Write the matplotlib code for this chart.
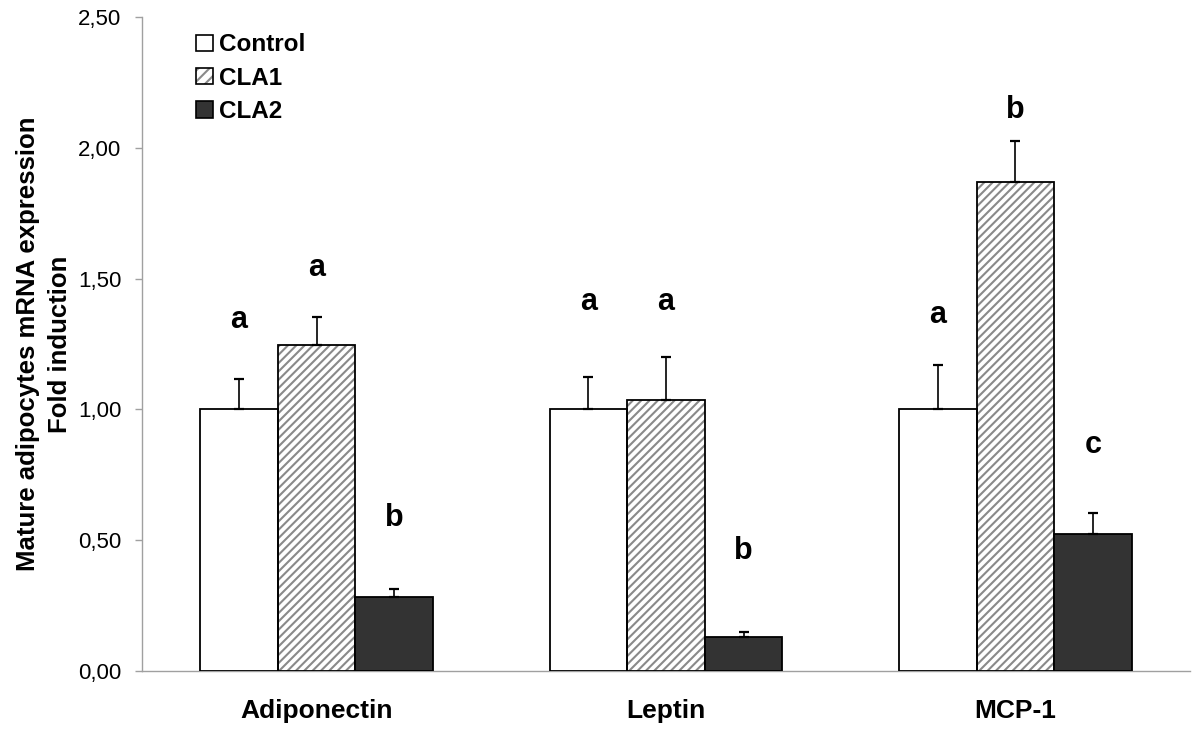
import matplotlib
matplotlib.use('Agg')
import matplotlib.pyplot as plt
from matplotlib.patches import Patch
from matplotlib.legend_handler import HandlerTuple
import numpy as np

plt.rcParams['font.family'] = ['Liberation Sans', 'DejaVu Sans']
plt.rcParams['hatch.linewidth'] = 1.5

# data
genes = ['Adiponectin', 'Leptin', 'MCP-1']
groups = ['Control', 'CLA1', 'CLA2']
means = {
    'Control': [1.00, 1.00, 1.00],
    'CLA1': [1.245, 1.036, 1.868],
    'CLA2': [0.284, 0.128, 0.522],
}
errs = {
    'Control': [0.116, 0.125, 0.17],
    'CLA1': [0.108, 0.166, 0.158],
    'CLA2': [0.03, 0.02, 0.083],
}
letters = {
    'Control': ['a', 'a', 'a'],
    'CLA1': ['a', 'a', 'b'],
    'CLA2': ['b', 'b', 'c'],
}
letter_y = {
    'Control': [1.342, 1.41, 1.361],
    'CLA1': [1.54, 1.41, 2.144],
    'CLA2': [0.585, 0.459, 0.864],
}
yticks = [0, 0.5, 1.0, 1.5, 2.0, 2.5]
ytick_labels = ['0,00', '0,50', '1,00', '1,50', '2,00', '2,50']

fig = plt.figure(figsize=(12, 7.37), dpi=100)
ax = fig.add_axes([0.1183, 0.0896, 0.8734, 0.8873])

x = np.arange(len(genes))
w = 0.2223
offs = [-w, 0, w]
styles = {
    'Control': dict(color='white', hatch=None),
    'CLA1': dict(color='white', hatch='////'),
    'CLA2': dict(color='#333333', hatch=None),
}
hatch_col = '#8a8a8a'

for g, off in zip(groups, offs):
    st = styles[g]
    if st['hatch']:
        ax.bar(x + off, means[g], w, color=st['color'], hatch=st['hatch'],
               edgecolor=hatch_col, linewidth=0, zorder=2)
    ax.bar(x + off, means[g], w, color=st['color'] if not st['hatch'] else 'none',
           edgecolor='black', linewidth=1.3, zorder=3)
    ax.errorbar(x + off, means[g], yerr=[np.zeros(3), errs[g]], fmt='none',
                ecolor='black', elinewidth=1.2, capsize=3.5, capthick=1.6, zorder=4)
    for xi, lab, ly in zip(x + off, letters[g], letter_y[g]):
        ax.text(xi, ly, lab, ha='center', va='center', fontsize=22, fontweight='bold')

# legend
h_ctrl = Patch(facecolor='white', edgecolor='black', linewidth=1.2)
h_cla1 = (Patch(facecolor='white', edgecolor=hatch_col, hatch='///', linewidth=0),
          Patch(facecolor='none', edgecolor='black', linewidth=1.2))
h_cla2 = Patch(facecolor='#333333', edgecolor='black', linewidth=1.2)
leg = ax.legend([h_ctrl, h_cla1, h_cla2], groups, loc='upper left',
                bbox_to_anchor=(0.052, 0.975),
                handler_map={tuple: HandlerTuple(ndivide=1, pad=0)},
                frameon=False, prop={'weight': 'bold', 'size': 17.5},
                handlelength=0.68, handleheight=0.68, handletextpad=0.25,
                labelspacing=0.42, borderpad=0, borderaxespad=0)

ax.set_xlim(-0.5, 2.5)
ax.set_ylim(0, 2.5)
ax.set_yticks(yticks)
ax.set_yticklabels(ytick_labels, fontsize=16)
ax.set_xticks(x)
ax.set_xticklabels(genes, fontsize=19, fontweight='bold')
ax.tick_params(axis='x', length=0, pad=20)
ax.tick_params(axis='y', length=5, width=1, color='#a0a0a0', pad=10)

for s in ['top', 'right']:
    ax.spines[s].set_visible(False)
for s in ['left', 'bottom']:
    ax.spines[s].set_color('#a0a0a0')
    ax.spines[s].set_linewidth(1)

ax.set_ylabel('Mature adipocytes mRNA expression\nFold induction', fontsize=18.5,
              fontweight='bold', linespacing=1.4)
ax.yaxis.set_label_coords(-0.067, 0.5)

fig.savefig('out.png', dpi=100)
